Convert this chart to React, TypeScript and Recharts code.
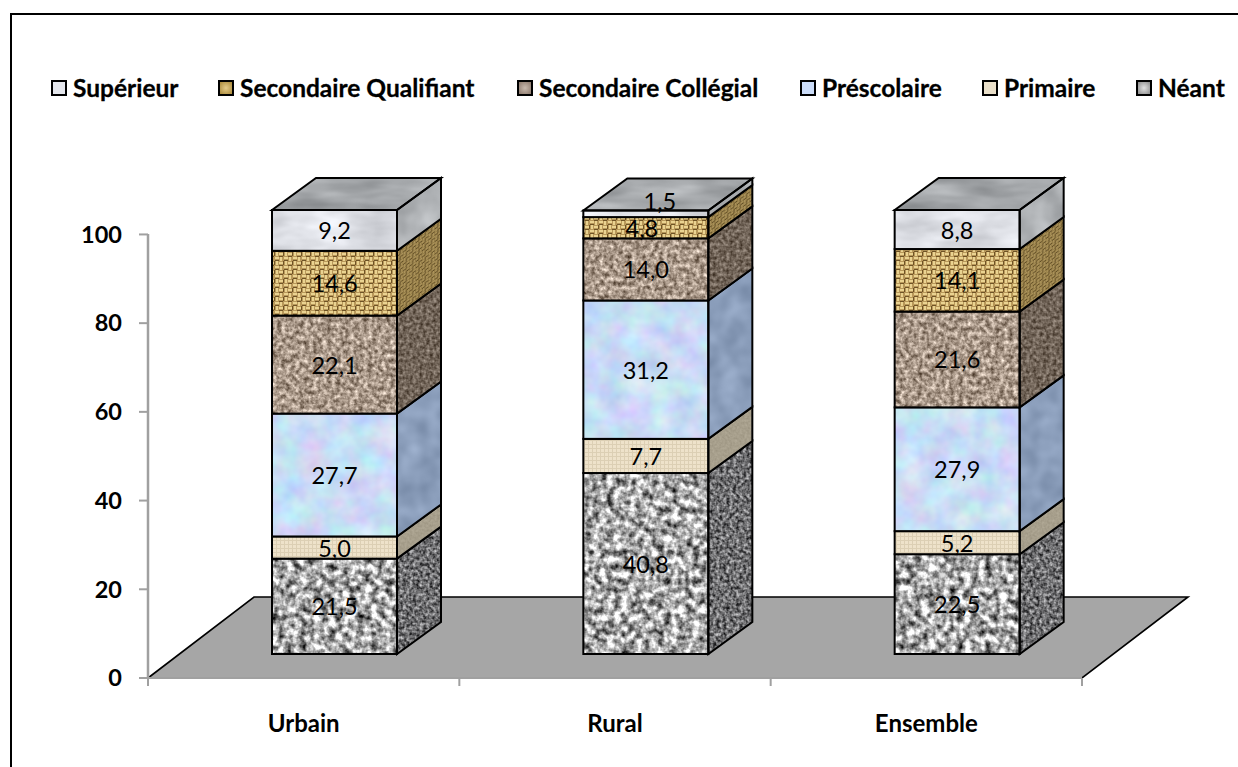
import * as React from 'react'
import { BarChart, Bar, XAxis, YAxis, Legend, LabelList, Customized, usePlotArea } from 'recharts'

const CATEGORIES = ['Urbain', 'Rural', 'Ensemble']
const NEANT = [21.5, 40.8, 22.5]
const PRIMAIRE = [5.0, 7.7, 5.2]
const PRESCOLAIRE = [27.7, 31.2, 27.9]
const COLLEGIAL = [22.1, 14.0, 21.6]
const QUALIFIANT = [14.6, 4.8, 14.1]
const SUPERIEUR = [9.2, 1.5, 8.8]
const Y_TICKS = [0, 20, 40, 60, 80, 100]

const SERIES = [
  { key: 'neant', name: 'Néant', values: NEANT, swatch: 'radial-gradient(#e2e2e2, #8a8a8a)' },
  { key: 'primaire', name: 'Primaire', values: PRIMAIRE, swatch: '#e9dfc9' },
  { key: 'prescolaire', name: 'Préscolaire', values: PRESCOLAIRE, swatch: '#cbdcf8' },
  { key: 'collegial', name: 'Secondaire Collégial', values: COLLEGIAL, swatch: 'radial-gradient(#c9baae, #8a776a)' },
  { key: 'qualifiant', name: 'Secondaire Qualifiant', values: QUALIFIANT, swatch: 'radial-gradient(#e6cc8a, #a98838)' },
  { key: 'superieur', name: 'Supérieur', values: SUPERIEUR, swatch: '#e4e6ec' },
]

const LEGEND_X: Record<string, number> = {
  superieur: 51,
  qualifiant: 218,
  collegial: 517,
  prescolaire: 800,
  primaire: 982,
  neant: 1136,
}

const data = CATEGORIES.map((name, i) => {
  const row: Record<string, string | number> = { name }
  SERIES.forEach((s) => {
    row[s.key] = s.values[i]
  })
  return row
})

const FONT = 'Lato, Carlito, sans-serif'
const DEPTH_X = 44
const DEPTH_Y = 32
const FRONT_X = 31
const FRONT_Y = 24
const BAND = 934 / CATEGORIES.length

// colour matrix around a base colour, noise amount k. tint: each channel reads its own noise
function noiseMatrix(hex: string, k: number, tint: boolean) {
  const c = [1, 3, 5].map((i) => parseInt(hex.slice(i, i + 2), 16) / 255)
  const g = tint ? `0 ${k} 0 0` : `${k} 0 0 0`
  const b = tint ? `0 0 ${k / 2} 0` : `${k} 0 0 0`
  return `${k} 0 0 0 ${c[0] - k / 2} ${g} ${c[1] - k / 2} ${b} ${c[2] - (tint ? k / 4 : k / 2)} 0 0 0 0 1`
}

function Texture({ id, color, k, freq, octaves = 2, seed = 3, tint = false }: any) {
  return (
    <filter id={id} x="0" y="0" width="1" height="1" colorInterpolationFilters="sRGB">
      <feTurbulence type="fractalNoise" baseFrequency={freq} numOctaves={octaves} seed={seed} result="n" />
      <feColorMatrix in="n" type="matrix" values={noiseMatrix(color, k, tint)} result="c" />
      <feComposite in="c" in2="SourceGraphic" operator="in" />
    </filter>
  )
}

function WeavePattern({ id, base, light, dark, transform }: any) {
  return (
    <pattern id={id} width="9" height="9" patternUnits="userSpaceOnUse" patternTransform={transform}>
      <rect width="9" height="9" fill={base} />
      <rect x="0" y="1" width="5" height="2" fill={light} />
      <rect x="5" y="5" width="4" height="2" fill={light} />
      <rect x="6" y="0" width="2" height="4" fill={light} />
      <rect x="1" y="5" width="2" height="4" fill={light} />
      <rect x="0" y="4" width="4" height="1" fill={dark} />
      <rect x="5" y="8" width="4" height="1" fill={dark} />
      <rect x="4" y="0" width="1" height="4" fill={dark} />
    </pattern>
  )
}

function Defs() {
  return (
    <defs>
      <Texture id="f-neant" color="#a9a9a9" k={1.7} freq={0.14} octaves={3} />
      <Texture id="s-neant" color="#6e6e70" k={1.1} freq={0.3} octaves={2} />
      <Texture id="s-primaire" color="#a79f8c" k={0.12} freq={0.4} />
      <Texture id="f-prescolaire" color="#c8dcf5" k={0.26} freq={0.04} octaves={3} tint />
      <Texture id="s-prescolaire" color="#8a9dba" k={0.2} freq={0.05} octaves={2} />
      <Texture id="f-collegial" color="#a99889" k={0.95} freq={0.22} octaves={3} />
      <Texture id="s-collegial" color="#716458" k={0.6} freq={0.3} octaves={2} />
      <Texture id="f-superieur" color="#dfe1e7" k={0.3} freq="0.02 0.05" octaves={3} />
      <Texture id="s-superieur" color="#acafb2" k={0.3} freq="0.03 0.03" octaves={3} />
      <Texture id="t-superieur" color="#a5a8ab" k={0.3} freq="0.015 0.06" octaves={3} />
      <filter id="soft" x="0" y="0" width="1" height="1">
        <feGaussianBlur stdDeviation="0.7" />
      </filter>
      <WeavePattern id="p-f-qualifiant" base="#b8985a" light="#ead391" dark="#6e5226" />
      <WeavePattern id="p-s-qualifiant" base="#8f7742" light="#ad955c" dark="#54421e" transform="skewY(-36) scale(0.7)" />
      <pattern id="p-f-primaire" width="4" height="4" patternUnits="userSpaceOnUse">
        <rect width="4" height="4" fill="#eee2ca" />
        <rect width="4" height="1" fill="#dccfb4" />
        <rect width="1" height="4" fill="#dccfb4" />
      </pattern>
    </defs>
  )
}

function Floor() {
  const plot = usePlotArea()
  if (!plot) return null
  const { x, y, width, height } = plot
  const bottom = y + height
  const back = bottom - 81
  const pts = `${x},${bottom} ${x + 106},${back} ${x + width + 106},${back} ${x + width},${bottom}`
  return <polygon points={pts} fill="#a6a6a6" stroke="#000" strokeWidth={1.6} />
}

function faceProps(face: string, key: string) {
  const patterned = key === 'qualifiant' || (key === 'primaire' && face === 'f')
  if (patterned) return { fill: `url(#p-${face}-${key})`, filter: 'url(#soft)' }
  return { fill: '#fff', filter: `url(#${face}-${key})` }
}

function makeBlock(key: string, isTop: boolean) {
  return function Block(props: any) {
    const { x, y, width, height } = props
    const fx = x + FRONT_X
    const fy = y - FRONT_Y
    const rx = fx + width
    const by = fy + height
    const side = `${rx},${fy} ${rx + DEPTH_X},${fy - DEPTH_Y} ${rx + DEPTH_X},${by - DEPTH_Y} ${rx},${by}`
    const top = `${fx},${fy} ${fx + DEPTH_X},${fy - DEPTH_Y} ${rx + DEPTH_X},${fy - DEPTH_Y} ${rx},${fy}`
    return (
      <g>
        <rect x={fx} y={fy} width={width} height={height} {...faceProps('f', key)} />
        <polygon points={side} {...faceProps('s', key)} />
        {isTop && <polygon points={top} fill="#fff" filter="url(#t-superieur)" />}
        <rect x={fx} y={fy} width={width} height={height} fill="none" stroke="#000" strokeWidth={2} />
        <polygon points={side} fill="none" stroke="#000" strokeWidth={2} />
        {isTop && <polygon points={top} fill="none" stroke="#000" strokeWidth={2} />}
      </g>
    )
  }
}

// labels moved by hand in the original: series + category index
const LABEL_SHIFT: Record<string, [number, number]> = {
  'superieur-1': [14, -13],
  'qualifiant-1': [-4, 0],
}

function makeLabel(key: string) {
  return function BlockLabel(props: any) {
    const { x, y, width, height, value, index } = props
    const shift = LABEL_SHIFT[`${key}-${index}`] || [0, 0]
    return (
      <text
        x={x + FRONT_X + width / 2 + shift[0]}
        y={y - FRONT_Y + height / 2 + shift[1]}
        textAnchor="middle"
        dominantBaseline="central"
        fontFamily={FONT}
        fontSize={23.5}
        fill="#000"
      >
        {Number(value).toFixed(1).replace('.', ',')}
      </text>
    )
  }
}

function CategoryTick(props: any) {
  const { x, y, payload, index } = props
  const left = x - BAND / 2
  return (
    <g>
      <line x1={left} x2={left} y1={y - 8} y2={y} stroke="#a0a0a0" strokeWidth={2} />
      {index === CATEGORIES.length - 1 && (
        <line x1={left + BAND} x2={left + BAND} y1={y - 8} y2={y} stroke="#a0a0a0" strokeWidth={2} />
      )}
      <text x={x} y={y + 46} textAnchor="middle" fontFamily={FONT} fontWeight={700} fontSize={24} fill="#000">
        {payload.value}
      </text>
    </g>
  )
}

function LegendRow() {
  return (
    <div style={{ position: 'relative', height: 30, width: 1238 }}>
      {SERIES.map((s) => (
        <div
          key={s.key}
          style={{
            position: 'absolute',
            left: LEGEND_X[s.key],
            top: 0,
            display: 'flex',
            alignItems: 'center',
            whiteSpace: 'nowrap',
            fontFamily: FONT,
            fontWeight: 700,
            fontSize: 24.5,
            color: '#000',
            WebkitTextStroke: '0.3px #000',
          }}
        >
          <span
            style={{
              display: 'inline-block',
              boxSizing: 'border-box',
              width: 16,
              height: 16,
              marginRight: 6,
              border: '2px solid #000',
              background: s.swatch,
            }}
          />
          {s.name}
        </div>
      ))}
    </div>
  )
}

export default function App() {
  return (
    <div style={{ position: 'absolute', left: 0, top: 0, width: 1238, height: 767, background: '#fff', overflow: 'hidden' }}>
      <div
        style={{
          position: 'absolute',
          left: 10,
          top: 13,
          width: 1300,
          height: 800,
          border: '2px solid #000',
        }}
      />
      <BarChart
        width={1238}
        height={767}
        data={data}
        barSize={125}
        margin={{ top: 204, right: 156, bottom: 0, left: 0 }}
        style={{ position: 'absolute', left: 0, top: 0 }}
      >
        <svg>
          <Defs />
        </svg>
        <XAxis
          dataKey="name"
          axisLine={{ stroke: '#a0a0a0', strokeWidth: 2 }}
          tickLine={false}
          tick={<CategoryTick />}
          height={89}
        />
        <YAxis
          domain={[0, 100]}
          ticks={Y_TICKS}
          width={148}
          axisLine={{ stroke: '#a0a0a0', strokeWidth: 2.5 }}
          tickLine={{ stroke: '#a0a0a0', strokeWidth: 2 }}
          tickSize={9}
          tickMargin={17}
          tick={{ fontFamily: FONT, fontWeight: 700, fontSize: 23.5, fill: '#000' }}
        />
        <Customized component={Floor} />
        <Legend verticalAlign="top" wrapperStyle={{ left: 0, top: 73, width: 1238 }} content={<LegendRow />} />
        {SERIES.map((s, i) => (
          <Bar
            key={s.key}
            dataKey={s.key}
            name={s.name}
            stackId="a"
            isAnimationActive={false}
            fill="#ccc"
            shape={makeBlock(s.key, i === SERIES.length - 1)}
          >
            <LabelList dataKey={s.key} content={makeLabel(s.key)} />
          </Bar>
        ))}
      </BarChart>
    </div>
  )
}
